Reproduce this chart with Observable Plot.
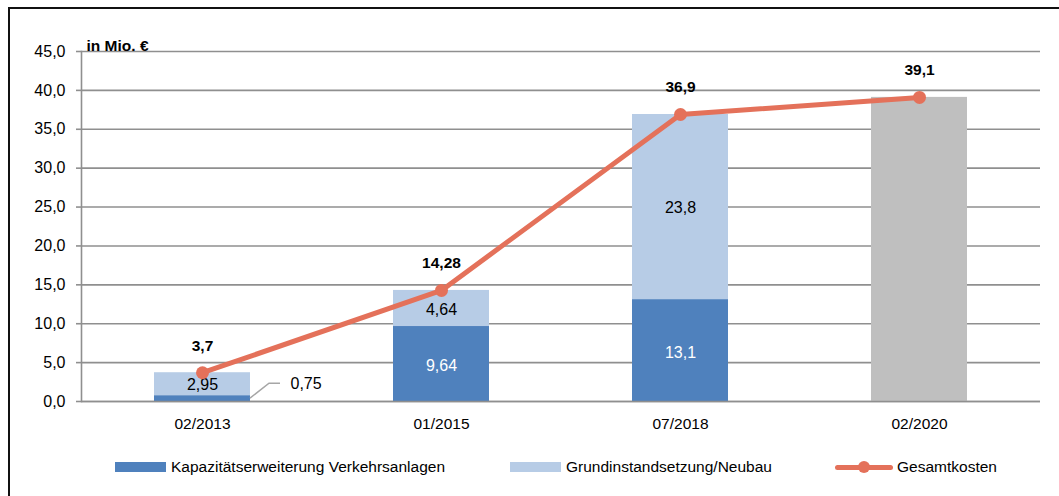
<!DOCTYPE html>
<html>
<head>
<meta charset="utf-8">
<script src="https://cdn.jsdelivr.net/npm/d3@7"></script>
<script src="https://cdn.jsdelivr.net/npm/@observablehq/plot@0.6"></script>
<style>
  html, body { margin: 0; padding: 0; background: #fff; }
  #wrap { position: relative; width: 1059px; height: 496px; overflow: hidden;
          font-family: "Liberation Sans", Arial, sans-serif; color: #000; }
  #frame { position: absolute; left: 8px; top: 7px; width: 1100px; height: 600px;
           border-left: 2.5px solid #111; border-top: 2.5px solid #111; box-sizing: border-box; }
  #chart { position: absolute; left: 0; top: 0; }
  #legend { position: absolute; left: 0; top: 440px; width: 1059px; height: 56px; font-size: 15.5px; }
  .li { position: absolute; top: 16px; height: 22px; display: flex; align-items: center; }
  .sw { display: inline-block; width: 51px; height: 10px; margin-right: 5px; }
  .ln { position: relative; width: 58px; height: 5px; margin-right: 4px; background: #E4715A; border-radius: 3px; }
  .ln::after { content: ""; position: absolute; left: 23px; top: -4px; width: 12px; height: 12px; border-radius: 50%; background: #E4715A; }
</style>
</head>
<body>
<div id="wrap">
  <div id="frame"></div>
  <div id="chart"></div>
  <div id="legend">
    <div class="li" style="left:115px"><span class="sw" style="background:#4F81BD"></span><span>Kapazitätserweiterung Verkehrsanlagen</span></div>
    <div class="li" style="left:510px"><span class="sw" style="background:#B7CCE6"></span><span>Grundinstandsetzung/Neubau</span></div>
    <div class="li" style="left:835px"><span class="ln"></span><span>Gesamtkosten</span></div>
  </div>
</div>
<script>
const categories = ["02/2013", "01/2015", "07/2018", "02/2020"];
const kapazitaet = [0.75, 9.64, 13.1, null];
const grundinstand = [2.95, 4.64, 23.8, null];
const ohneAufteilung = [null, null, null, 39.1];
const gesamtkosten = [3.7, 14.28, 36.9, 39.1];
const yTicks = [0, 5, 10, 15, 20, 25, 30, 35, 40, 45];
const unitLabel = "in Mio. €";

const fmt = v => String(v).replace(".", ",");
const blue = "#4F81BD", light = "#B7CCE6", gray = "#BFBFBF", red = "#E4715A", grid = "#8F8F8F";
const FONT = '"Liberation Sans", Arial, sans-serif';

const kapRows = [], grundRows = [], grayRows = [], totals = [];
categories.forEach((c, i) => {
  if (kapazitaet[i] != null) kapRows.push({cat: c, y1: 0, y2: kapazitaet[i], mid: kapazitaet[i] / 2, v: kapazitaet[i]});
  if (grundinstand[i] != null) {
    const b = kapazitaet[i] || 0;
    grundRows.push({cat: c, y1: b, y2: b + grundinstand[i], mid: b + grundinstand[i] / 2, v: grundinstand[i]});
  }
  if (ohneAufteilung[i] != null) grayRows.push({cat: c, y1: 0, y2: ohneAufteilung[i]});
  totals.push({cat: c, v: gesamtkosten[i]});
});
const kapInside = kapRows.filter(d => d.v >= 1);
const kapOutside = kapRows.filter(d => d.v < 1);

const chart = Plot.plot({
  width: 1059,
  height: 440,
  marginLeft: 81,
  marginRight: 19,
  marginTop: 51,
  marginBottom: 39,
  style: {fontFamily: FONT, fontSize: "16px", color: "#000", background: "transparent", overflow: "visible"},
  x: {type: "band", domain: categories, paddingInner: 0.6, paddingOuter: 0.3, label: null},
  y: {domain: [0, 45], label: null},
  marks: [
    Plot.gridY(yTicks, {stroke: grid, strokeOpacity: 1, strokeWidth: 1.6}),
    Plot.frame({anchor: "left", stroke: grid, strokeWidth: 1.6}),
    Plot.axisY({ticks: yTicks, tickFormat: d => d.toFixed(1).replace(".", ","), tickSize: 5, tickPadding: 11, stroke: grid, strokeWidth: 1.6, label: null, fontSize: 16}),
    Plot.axisX({tickSize: 0, tickPadding: 16, label: null, fontSize: 15.5}),
    Plot.barY(kapRows, {x: "cat", y1: "y1", y2: "y2", fill: blue}),
    Plot.barY(grundRows, {x: "cat", y1: "y1", y2: "y2", fill: light}),
    Plot.barY(grayRows, {x: "cat", y1: "y1", y2: "y2", fill: gray}),
    Plot.ruleY([0], {stroke: grid, strokeWidth: 1.6}),
    Plot.text(kapInside, {x: "cat", y: "mid", text: d => fmt(d.v), fill: "#fff", fontSize: 16, dy: 2}),
    Plot.text(grundRows, {x: "cat", y: "mid", text: d => fmt(d.v), fill: "#000", fontSize: 16, dy: 1}),
    Plot.text(kapOutside, {x: "cat", y: "v", text: d => fmt(d.v), fill: "#000", fontSize: 16, textAnchor: "start", dx: 88, dy: -12}),
    Plot.line(totals, {x: "cat", y: "v", stroke: red, strokeWidth: 5}),
    Plot.dot(totals, {x: "cat", y: "v", r: 6.5, fill: red, stroke: "none"}),
    Plot.text(totals, {x: "cat", y: "v", text: d => fmt(d.v), fontWeight: "bold", fontSize: 15.5, dy: -27, fill: "#000"}),
    Plot.text([unitLabel], {frameAnchor: "top-left", text: d => d, textAnchor: "start", fontWeight: "bold", fontSize: 15.5, dx: 5, dy: -12, fill: "#000"})
  ]
});
document.getElementById("chart").appendChild(chart);

// leader line for the small segment label
const xs = chart.scale("x"), ys = chart.scale("y");
kapOutside.forEach(d => {
  const x0 = xs.apply(d.cat) + xs.bandwidth;
  const yb = ys.apply(d.v / 2);
  const yl = ys.apply(d.v) - 12;
  d3.select(chart).append("path")
    .attr("d", `M${x0},${yb}L${x0 + 19},${yl}L${x0 + 30},${yl}`)
    .attr("fill", "none").attr("stroke", "#A6A6A6").attr("stroke-width", 1.5);
});
</script>
</body>
</html>
